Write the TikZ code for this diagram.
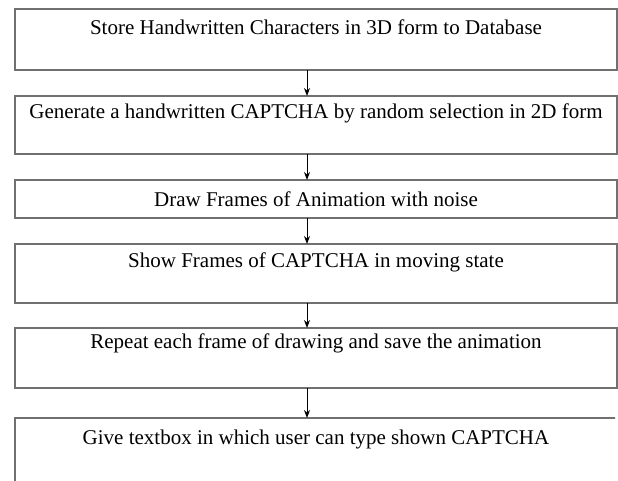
\documentclass[tikz,border=0pt]{standalone}
\usepackage{fontspec}
\setmainfont{Liberation Serif}
\usetikzlibrary{arrows.meta}
\definecolor{boxgray}{HTML}{707070}
\tikzset{
    stage/.style 2 args={draw=boxgray,line width=1.5pt,rectangle,
        anchor=north west,minimum width=602pt,minimum height=0pt,
        inner xsep=0pt,inner ysep=0pt,outer sep=0pt,
        text height=#1,text depth=#2,
        font=\fontsize{21pt}{25pt}\selectfont},
    flow/.style={line width=1pt,-{Stealth[length=8pt,width=6pt]}}
}
\begin{document}
\begin{tikzpicture}[x=1pt,y=-1pt]
        \useasboundingbox (0,0) rectangle (618,481);
        %% Steps
        \node[stage={26pt}{35pt}] (store) at (15,9)
            {Store Handwritten Characters in 3D form to Database};
        \node[stage={23pt}{35pt}] (generate) at (15,96)
            {Generate a handwritten CAPTCHA by random selection in 2D form};
        \node[stage={27pt}{11pt}] (frames) at (15,180)
            {Draw Frames of Animation with noise};
        \node[stage={23pt}{36pt}] (show) at (15,244)
            {Show Frames of CAPTCHA in moving state};
        \node[stage={20pt}{40pt}] (repeat) at (15,328)
            {Repeat each frame of drawing and save the animation};
        \begin{scope}
            \clip (0,0) rectangle (615,481);
            \node[stage={26pt}{80pt}] (textbox) at (15,418)
                {Give textbox in which user can type shown CAPTCHA};
        \end{scope}
        %% Arrows
        \coordinate (axis) at (307,0);
        \draw[flow] (store.south -| axis) -- (generate.north -| axis);
        \draw[flow] (generate.south -| axis) -- (frames.north -| axis);
        \draw[flow] (frames.south -| axis) -- (show.north -| axis);
        \draw[flow] (show.south -| axis) -- (repeat.north -| axis);
        \draw[flow] (repeat.south -| axis) -- (textbox.north -| axis);
    \end{tikzpicture}
\end{document}
